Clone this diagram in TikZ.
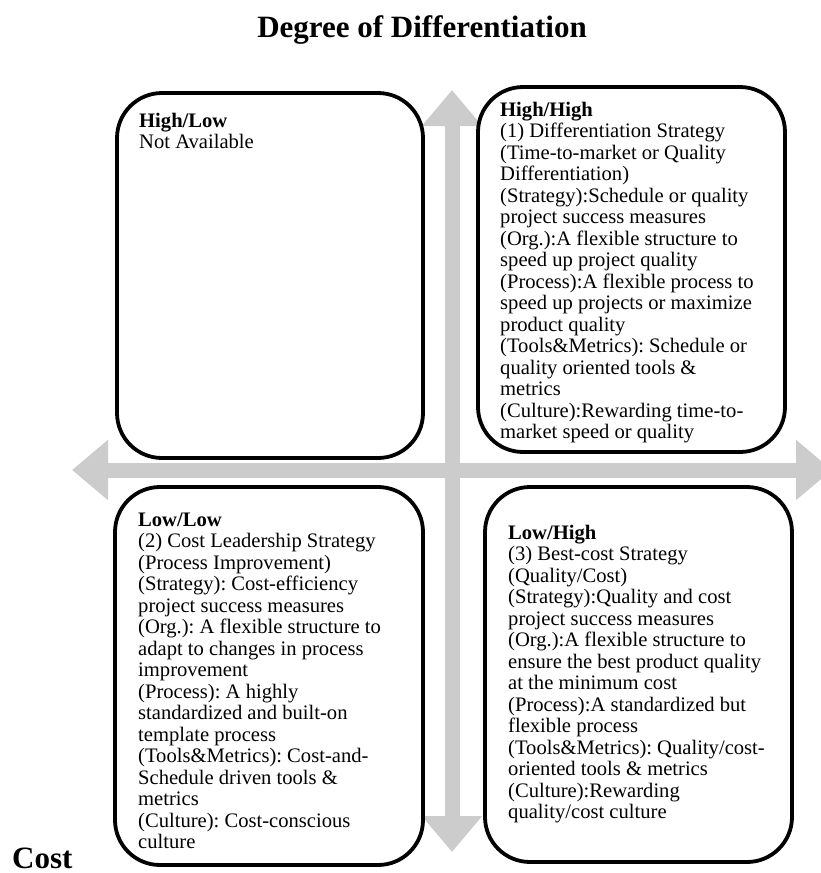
\documentclass[tikz,border=0pt]{standalone}
\usepackage{fontspec}
\setmainfont{Liberation Serif}
\usetikzlibrary{arrows.meta}
\definecolor{axisgray}{RGB}{204,204,204}
\frenchspacing

\begin{document}
\begin{tikzpicture}[x=1pt, y=-1pt,
		quadrant/.style={draw, line width=3.8pt, rounded corners=45pt, fill=white, inner sep=0pt},
		celltext/.style={anchor=north west, align=left, inner sep=0pt, font=\fontsize{20.6}{21.5}\selectfont},
		axisarrow/.style={draw=axisgray, line width=15pt,
			{Triangle[width=58pt,length=36pt]}-{Triangle[width=58pt,length=36pt]}},
		heading/.style={font=\bfseries\fontsize{31}{34}\selectfont, inner sep=0pt}]
		\useasboundingbox (0,0) rectangle (821,873);
		\clip (0,0) rectangle (821,873);
		% axes
		\coordinate (top) at (452,90);
		\coordinate (bottom) at (452,852);
		\coordinate (west) at (72,470);
		\coordinate (east) at (832,470);
		\draw[axisarrow] (west) -- (east);
		\draw[axisarrow] (top) -- (bottom);
		% quadrants
		\node[quadrant, minimum width=306pt, minimum height=365pt] (hlbox) at (270,275.5) {};
		\node[quadrant, minimum width=307pt, minimum height=365pt] (hhbox) at (631.5,269.5) {};
		\node[quadrant, minimum width=308pt, minimum height=378pt] (llbox) at (269,676) {};
		\node[quadrant, minimum width=307pt, minimum height=375pt] (lhbox) at (638.5,674.5) {};
		\node[celltext] (hltext) at (139,112) {\strut\textbf{High/Low}\\Not Available};
		\node[celltext] (hhtext) at (500,101) {\strut\textbf{High/High}\\
			(1) Differentiation Strategy\\
			(Time-to-market or Quality\\
			Differentiation)\\
			(Strategy):Schedule or quality\\
			project success measures\\
			(Org.):A flexible structure to\\
			speed up project quality\\
			(Process):A flexible process to\\
			speed up projects or maximize\\
			product quality\\
			(Tools\&Metrics): Schedule or\\
			quality oriented tools \&\\
			metrics\\
			(Culture):Rewarding time-to-\\
			market speed or quality};
		\node[celltext] (lltext) at (138,511) {\strut\textbf{Low/Low}\\
			(2) Cost Leadership Strategy\\
			(Process Improvement)\\
			(Strategy): Cost-efficiency\\
			project success measures\\
			(Org.): A flexible structure to\\
			adapt to changes in process\\
			improvement\\
			(Process): A highly\\
			standardized and built-on\\
			template process\\
			(Tools\&Metrics): Cost-and-\\
			Schedule driven tools \&\\
			metrics\\
			(Culture): Cost-conscious\\
			culture};
		\node[celltext] (lhtext) at (508,524) {\strut\textbf{Low/High}\\
			(3) Best-cost Strategy\\
			(Quality/Cost)\\
			(Strategy):Quality and cost\\
			project success measures\\
			(Org.):A flexible structure to\\
			ensure the best product quality\\
			at the minimum cost\\
			(Process):A standardized but\\
			flexible process\\
			(Tools\&Metrics): Quality/cost-\\
			oriented tools \& metrics\\
			(Culture):Rewarding\\
			quality/cost culture};
		% axis labels
		\node[heading, anchor=base] (title) at (422,37) {Degree of Differentiation};
		\node[heading, anchor=base west] (cost) at (12,868) {Cost};
	\end{tikzpicture}
\end{document}
